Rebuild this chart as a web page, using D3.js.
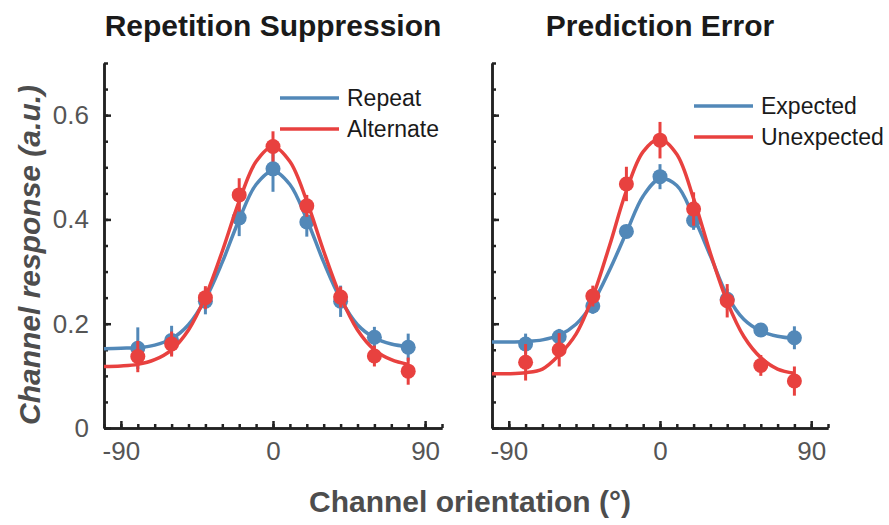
<!DOCTYPE html>
<html>
<head>
<meta charset="utf-8">
<script src="https://cdn.jsdelivr.net/npm/d3@7"></script>
<style>
  body { margin: 0; background: #fff; }
  svg { font-family: "Liberation Sans", Arial, Helvetica, sans-serif; }
  .axis path, .axis line { stroke: #222; stroke-width: 2.5; fill: none; }
  .axis text { fill: #555; font-size: 26px; }
  .title { font-size: 30px; font-weight: bold; fill: #1a1a1a; }
  .axis-label { font-size: 30px; font-weight: bold; fill: #4d4d4d; }
  .legend text { font-size: 23px; fill: #1a1a1a; }
</style>
</head>
<body>
<svg id="chart" width="889" height="525"></svg>
<script>
// orientations of the channel responses (deg)
const orientations = [-80, -60, -40, -20, 0, 20, 40, 60, 80];
// orientations where the fitted curves were read
const fitOrientations = [-100, -90, -80, -70, -60, -50, -40, -30, -20, -10, 0, 10, 20, 30, 40, 50, 60, 70, 80];

// Repetition suppression
const repeatMean = [0.153, 0.168, 0.243, 0.403, 0.497, 0.395, 0.243, 0.174, 0.155];
const repeatErr = [0.040, 0.028, 0.025, 0.035, 0.044, 0.028, 0.030, 0.020, 0.026];
const repeatFit = [0.152, 0.153, 0.154, 0.159, 0.171, 0.198, 0.247, 0.318, 0.400, 0.467, 0.493, 0.467, 0.400, 0.318, 0.247, 0.198, 0.173, 0.161, 0.156];
const alternateMean = [0.137, 0.161, 0.250, 0.447, 0.540, 0.426, 0.251, 0.138, 0.109];
const alternateErr = [0.030, 0.024, 0.022, 0.032, 0.029, 0.021, 0.020, 0.020, 0.026];
const alternateFit = [0.118, 0.119, 0.122, 0.131, 0.150, 0.188, 0.252, 0.339, 0.435, 0.511, 0.540, 0.511, 0.435, 0.339, 0.252, 0.188, 0.150, 0.131, 0.122];

// Prediction error
const expectedMean = [0.161, 0.175, 0.234, 0.377, 0.482, 0.398, 0.247, 0.188, 0.173];
const expectedErr = [0.020, 0.015, 0.015, 0.010, 0.024, 0.018, 0.020, 0.010, 0.022];
const expectedFit = [0.165, 0.165, 0.166, 0.169, 0.178, 0.199, 0.240, 0.303, 0.375, 0.445, 0.478, 0.465, 0.405, 0.330, 0.254, 0.208, 0.186, 0.176, 0.172];
const unexpectedMean = [0.126, 0.150, 0.253, 0.468, 0.552, 0.420, 0.244, 0.120, 0.090];
const unexpectedErr = [0.035, 0.032, 0.020, 0.033, 0.035, 0.032, 0.032, 0.020, 0.028];
const unexpectedFit = [0.104, 0.104, 0.106, 0.113, 0.140, 0.180, 0.252, 0.350, 0.455, 0.530, 0.554, 0.525, 0.440, 0.335, 0.242, 0.175, 0.135, 0.113, 0.105];

const xMajorTicks = [-90, 0, 90];
const yMajorTicks = [0, 0.2, 0.4, 0.6];

const blue = '#5288b8';
const red = '#e8413f';

class TuningPanel {
  constructor(_config, _series) {
    this.config = {
      left: _config.left,
      width: _config.width,
      top: 63,
      height: 365,
      title: _config.title,
      showYLabels: _config.showYLabels,
      legendX: _config.legendX,
      legendY: _config.legendY
    }
    this.series = _series;
    this.initVis();
  }

  initVis() {
    let vis = this;
    vis.svg = d3.select('#chart');
    vis.chart = vis.svg.append('g')
        .attr('transform', `translate(${vis.config.left},${vis.config.top})`);

    vis.xScale = d3.scaleLinear()
        .domain([-100, 100])
        .range([0, vis.config.width]);

    vis.yScale = d3.scaleLinear()
        .domain([0, 0.7])
        .range([vis.config.height, 0]);

    // minor ticks every 10 deg / 0.05, pointing into the plot
    vis.xMinor = d3.axisBottom(vis.xScale)
        .tickValues(d3.range(-100, 101, 10))
        .tickSizeInner(-4).tickSizeOuter(0).tickFormat('');
    vis.xMajor = d3.axisBottom(vis.xScale)
        .tickValues(xMajorTicks)
        .tickSizeInner(-7).tickSizeOuter(0).tickPadding(14).tickFormat(d => String(d));

    vis.yMinor = d3.axisLeft(vis.yScale)
        .tickValues(d3.range(0, 15).map(i => i * 0.05))
        .tickSizeInner(-4).tickSizeOuter(0).tickFormat('');
    vis.yMajor = d3.axisLeft(vis.yScale)
        .tickValues(yMajorTicks)
        .tickSizeInner(-7).tickSizeOuter(0).tickPadding(15)
        .tickFormat(vis.config.showYLabels ? (d => d === 0 ? '0' : d3.format('.1f')(d)) : '');

    vis.renderVis();
  }

  renderVis() {
    let vis = this;

    [vis.xMinor, vis.xMajor].forEach(ax => {
      vis.chart.append('g')
          .attr('class', 'axis x-axis')
          .attr('transform', `translate(0,${vis.config.height})`)
          .call(ax);
    });
    [vis.yMinor, vis.yMajor].forEach(ax => {
      vis.chart.append('g')
          .attr('class', 'axis y-axis')
          .call(ax);
    });
    vis.chart.selectAll('.axis').attr('font-family', null).attr('font-size', null);

    let line = d3.line()
        .x(d => vis.xScale(d.x))
        .y(d => vis.yScale(d.y))
        .curve(d3.curveCatmullRom);

    vis.series.forEach(s => {
      let fit = fitOrientations.map((x, i) => ({x: x, y: s.fit[i]}));
      let pts = orientations.map((x, i) => ({x: x, m: s.mean[i], e: s.err[i]}));
      let g = vis.chart.append('g');

      g.append('path')
          .datum(fit)
          .attr('d', line)
          .attr('fill', 'none')
          .attr('stroke', s.color)
          .attr('stroke-width', 3.5);

      g.selectAll('.err')
          .data(pts)
        .join('line')
          .attr('class', 'err')
          .attr('x1', d => vis.xScale(d.x))
          .attr('x2', d => vis.xScale(d.x))
          .attr('y1', d => vis.yScale(d.m - d.e))
          .attr('y2', d => vis.yScale(d.m + d.e))
          .attr('stroke', s.color)
          .attr('stroke-width', 3);

      g.selectAll('.pt')
          .data(pts)
        .join('circle')
          .attr('class', 'pt')
          .attr('cx', d => vis.xScale(d.x))
          .attr('cy', d => vis.yScale(d.m))
          .attr('r', 7.5)
          .attr('fill', s.color);
    });

    // legend
    let legend = vis.svg.append('g')
        .attr('class', 'legend')
        .attr('transform', `translate(${vis.config.legendX},${vis.config.legendY})`);
    let items = legend.selectAll('g')
        .data(vis.series)
      .join('g')
        .attr('transform', (d, i) => `translate(0,${i * 31})`);
    items.append('line')
        .attr('x1', 0).attr('x2', 59)
        .attr('stroke', d => d.color)
        .attr('stroke-width', 3.5);
    items.append('text')
        .attr('x', 67)
        .attr('dy', '0.36em')
        .text(d => d.name);

    vis.svg.append('text')
        .attr('class', 'title')
        .attr('x', vis.config.left + vis.xScale(0))
        .attr('y', 36)
        .attr('text-anchor', 'middle')
        .text(vis.config.title);
  }
}

new TuningPanel({left: 104, width: 338, title: 'Repetition Suppression', showYLabels: true, legendX: 280, legendY: 98}, [
  {name: 'Repeat', color: blue, mean: repeatMean, err: repeatErr, fit: repeatFit},
  {name: 'Alternate', color: red, mean: alternateMean, err: alternateErr, fit: alternateFit}
]);

new TuningPanel({left: 492, width: 336, title: 'Prediction Error', showYLabels: false, legendX: 694, legendY: 106}, [
  {name: 'Expected', color: blue, mean: expectedMean, err: expectedErr, fit: expectedFit},
  {name: 'Unexpected', color: red, mean: unexpectedMean, err: unexpectedErr, fit: unexpectedFit}
]);

const svg = d3.select('#chart');
svg.append('text')
    .attr('class', 'axis-label')
    .attr('transform', 'translate(40,255) rotate(-90)')
    .attr('text-anchor', 'middle')
    .attr('font-style', 'italic')
    .text('Channel response (a.u.)');

svg.append('text')
    .attr('class', 'axis-label')
    .attr('x', 470)
    .attr('y', 512)
    .attr('text-anchor', 'middle')
    .text('Channel orientation (°)');
</script>
</body>
</html>
